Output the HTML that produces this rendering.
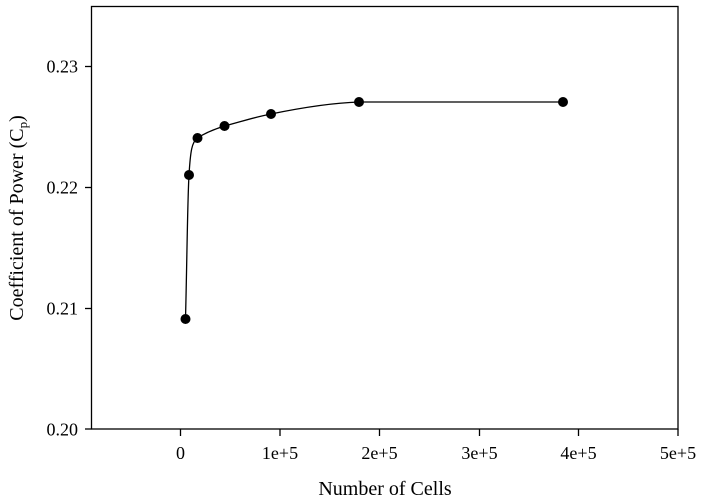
<!DOCTYPE html><html><head><style>body{margin:0;background:#fff}svg{display:block}text{font-family:"Liberation Serif",serif;fill:#000}</style></head><body>
<svg width="701" height="504" viewBox="0 0 701 504">
<rect x="91.5" y="6.5" width="586.5" height="422.5" fill="none" stroke="#000" stroke-width="1.3"/>
<g stroke="#000" stroke-width="1.3">
<line x1="85" y1="66.5" x2="91.5" y2="66.5"/><line x1="85" y1="187.5" x2="91.5" y2="187.5"/><line x1="85" y1="308.5" x2="91.5" y2="308.5"/><line x1="85" y1="429" x2="91.5" y2="429"/>
<line x1="180.5" y1="429" x2="180.5" y2="436"/><line x1="280" y1="429" x2="280" y2="436"/><line x1="379.5" y1="429" x2="379.5" y2="436"/><line x1="479.5" y1="429" x2="479.5" y2="436"/><line x1="578.5" y1="429" x2="578.5" y2="436"/><line x1="678" y1="429" x2="678" y2="436"/>
</g>
<g font-size="18" text-anchor="end"><text x="78" y="72.5">0.23</text><text x="78" y="193.5">0.22</text><text x="78" y="314.5">0.21</text><text x="78" y="435.5">0.20</text></g>
<g font-size="18" text-anchor="middle"><text x="180.5" y="459">0</text><text x="280" y="459">1e+5</text><text x="379.5" y="459">2e+5</text><text x="479.5" y="459">3e+5</text><text x="578.5" y="459">4e+5</text><text x="678" y="459">5e+5</text></g>
<text x="385" y="495" font-size="20" text-anchor="middle">Number of Cells</text>
<text transform="translate(23,218) rotate(-90)" font-size="20" text-anchor="middle">Coefficient of Power (C<tspan font-size="13" dy="4">p</tspan><tspan dy="-4">)</tspan></text>
<path d="M185.5,319 C187,260 187.5,200 189,175 C190.5,150 192,142 197.5,138 C205,133 215,129 224.5,126 C240,122 255,117 271,114 C300,108 330,103 359,102 C430,101.5 500,102 563,102" fill="none" stroke="#000" stroke-width="1.3"/>
<g fill="#000"><circle cx="185.5" cy="319" r="5"/><circle cx="189" cy="175" r="5"/><circle cx="197.5" cy="138" r="5"/><circle cx="224.5" cy="126" r="5"/><circle cx="271" cy="114" r="5"/><circle cx="359" cy="102" r="5"/><circle cx="563" cy="102" r="5"/></g>
</svg></body></html>
